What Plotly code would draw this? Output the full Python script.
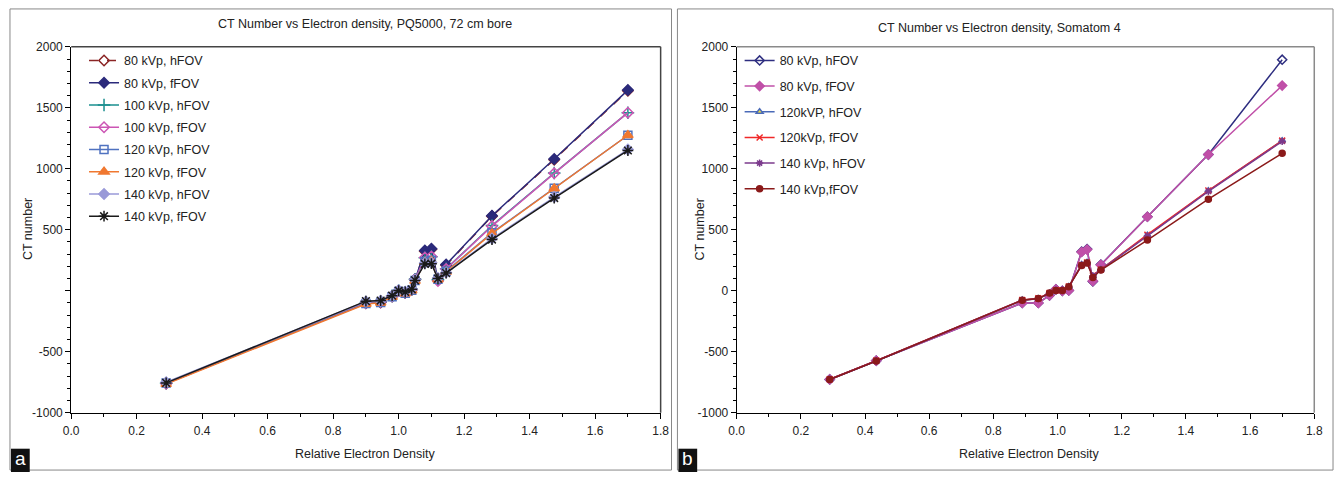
import plotly.graph_objects as go

# ---------------- data ----------------
ed_a = [0.29, 0.90, 0.945, 0.98, 1.00, 1.02, 1.04, 1.05, 1.08, 1.10, 1.12, 1.145, 1.285, 1.475, 1.70]
a_80_h = [-760, -102, -95, -47, -2, -17, 8, 92, 325, 340, 88, 210, 612, 1075, 1640]
a_80_f = [-755, -100, -92, -45, 0, -15, 10, 95, 330, 345, 90, 215, 615, 1080, 1645]
a_100_h = [-758, -98, -90, -42, 2, -12, 12, 95, 270, 280, 90, 180, 535, 965, 1460]
a_100_f = [-760, -100, -92, -45, 0, -15, 10, 92, 272, 282, 80, 178, 530, 963, 1460]
a_120_h = [-755, -105, -95, -48, -5, -20, 5, 85, 240, 250, 95, 160, 475, 840, 1275]
a_120_f = [-765, -108, -98, -50, -8, -22, 2, 80, 235, 245, 92, 155, 470, 838, 1275]
a_140_h = [-750, -88, -82, -38, 5, -8, 15, 90, 228, 230, 105, 150, 428, 768, 1158]
a_140_f = [-755, -85, -80, -40, 2, -10, 12, 85, 220, 222, 100, 145, 420, 760, 1150]

ed_b = [0.29, 0.435, 0.89, 0.94, 0.975, 0.995, 1.015, 1.035, 1.075, 1.092, 1.11, 1.135, 1.28, 1.47, 1.70]
b_80_h = [-727, -573, -100, -100, -37, 12, 0, 3, 321, 342, 77, 215, 607, 1117, 1894]
b_80_f = [-727, -573, -100, -100, -37, 12, 0, 3, 318, 338, 80, 212, 607, 1117, 1682]
b_120_h = [-725, -575, -75, -65, -20, 5, 5, 35, 215, 235, 120, 175, 455, 820, 1230]
b_120_f = [-725, -572, -75, -62, -18, 5, 5, 35, 212, 232, 125, 175, 460, 822, 1231]
b_140_h = [-727, -575, -78, -65, -20, 3, 3, 33, 210, 230, 122, 172, 450, 815, 1225]
b_140_f = [-727, -575, -77, -64, -19, 3, 3, 34, 207, 228, 109, 170, 416, 751, 1127]

names_a = ["80 kVp, hFOV", "80 kVp, fFOV", "100 kVp, hFOV", "100 kVp, fFOV",
           "120 kVp, hFOV", "120 kVp, fFOV", "140 kVp, hFOV", "140 kVp, fFOV"]
names_b = ["80 kVp, hFOV", "80 kVp, fFOV", "120kVP, hFOV", "120kVp, fFOV",
           "140 kVp, hFOV", "140 kVp,fFOV"]

y_ticks = [-1000, -500, 0, 500, 1000, 1500, 2000]
y_text_a = ["-1000", "-500", "", "500", "1000", "1500", "2000"]
y_text_b = ["-1000", "-500", "0", "500", "1000", "1500", "2000"]

FONT = "Arial, Liberation Sans, sans-serif"

fig = go.Figure()

style_a = [
    dict(color="#8B2525", symbol="diamond-open", dash="dash", size=8),
    dict(color="#2B2A7B", symbol="diamond", dash="solid", size=8),
    dict(color="#1A8F8F", symbol="cross-thin-open", dash="solid", size=9),
    dict(color="#CC55B4", symbol="diamond-open", dash="solid", size=8),
    dict(color="#4F72C0", symbol="square-open", dash="solid", size=8),
    dict(color="#F07830", symbol="triangle-up", dash="solid", size=9),
    dict(color="#9A9AD8", symbol="diamond", dash="solid", size=8),
    dict(color="#1A1A1A", symbol="asterisk-open", dash="solid", size=9),
]
series_a = [a_80_h, a_80_f, a_100_h, a_100_f, a_120_h, a_120_f, a_140_h, a_140_f]
for nm, ys, st in zip(names_a, series_a, style_a):
    fig.add_trace(go.Scatter(
        x=ed_a, y=ys, name=nm, mode="lines+markers", xaxis="x", yaxis="y",
        legend="legend", legendgroup=nm + "a",
        line=dict(color=st["color"], width=1.5, dash=st["dash"]),
        marker=dict(symbol=st["symbol"], size=st["size"], color=st["color"],
                    line=dict(color=st["color"], width=1.5)),
    ))

style_b = [
    dict(color="#2E2E80", symbol="diamond-open", fill="#2E2E80", size=7),
    dict(color="#C050A8", symbol="diamond", fill="#C050A8", size=7),
    dict(color="#4A6AB8", symbol="triangle-up", fill="#F2E040", size=6),
    dict(color="#F02828", symbol="x-thin-open", fill="#F02828", size=6),
    dict(color="#7B3A8C", symbol="asterisk-open", fill="#7B3A8C", size=6),
    dict(color="#8B1A1A", symbol="circle", fill="#8B1A1A", size=6),
]
series_b = [b_80_h, b_80_f, b_120_h, b_120_f, b_140_h, b_140_f]
for nm, ys, st in zip(names_b, series_b, style_b):
    fig.add_trace(go.Scatter(
        x=ed_b, y=ys, name=nm, mode="lines+markers", xaxis="x2", yaxis="y2",
        legend="legend2", legendgroup=nm + "b",
        line=dict(color=st["color"], width=1.5),
        marker=dict(symbol=st["symbol"], size=st["size"], color=st["fill"],
                    line=dict(color=st["color"], width=1.5)),
    ))

W, H = 1344, 479
def px(x):
    return x / W
def py(y):
    return 1 - y / H

axis_common = dict(
    showline=True, linecolor="#000000", linewidth=1, ticks="outside", ticklen=5,
    tickcolor="#000000", showgrid=False, zeroline=False,
    tickfont=dict(family=FONT, size=12, color="#222222"),
    minor=dict(ticks="outside", ticklen=3, tickcolor="#000000"),
)

fig.update_layout(
    width=W, height=H, margin=dict(l=0, r=0, t=0, b=0),
    paper_bgcolor="white", plot_bgcolor="white",
    font=dict(family=FONT, size=12, color="#222222"),
    xaxis=dict(domain=[px(64), px(661)], range=[0, 1.8], dtick=0.2, tick0=0,
               tickformat=".1f", anchor="y", minor_dtick=0.1, ticklabelstandoff=2,
               **axis_common),
    yaxis=dict(domain=[py(418), py(41)], range=[-1000, 2000], tickvals=y_ticks,
               ticktext=y_text_a, anchor="x", minor_dtick=100, **axis_common),
    xaxis2=dict(domain=[px(738), px(1323)], range=[0, 1.8], dtick=0.2, tick0=0,
                tickformat=".1f", anchor="y2", minor_dtick=0.1, ticklabelstandoff=2,
                **axis_common),
    yaxis2=dict(domain=[py(418), py(41)], range=[-1000, 2000], tickvals=y_ticks,
                ticktext=y_text_b, anchor="x2", minor_dtick=100, **axis_common),
    legend=dict(x=px(77), y=py(40), xanchor="left", yanchor="top",
                bgcolor="rgba(0,0,0,0)", font=dict(family=FONT, size=12.5, color="#222222"),
                tracegroupgap=3, itemwidth=30),
    legend2=dict(x=px(741), y=py(40), xanchor="left", yanchor="top",
                 bgcolor="rgba(0,0,0,0)", font=dict(family=FONT, size=12.5, color="#222222"),
                 tracegroupgap=6.4, itemwidth=30),
)

shapes = []
# panel frames
shapes.append(dict(type="rect", xref="paper", yref="paper", x0=px(2), x1=px(672),
                   y0=py(477), y1=py(2), line=dict(color="#888888", width=1)))
shapes.append(dict(type="rect", xref="paper", yref="paper", x0=px(678), x1=px(1342),
                   y0=py(477), y1=py(2), line=dict(color="#888888", width=1)))
# plot-area top/right border
for x0, x1, col in [(64, 661, "#444444"), (738, 1323, "#8A8A8A")]:
    shapes.append(dict(type="line", xref="paper", yref="paper", x0=px(x0), x1=px(x1),
                       y0=py(41), y1=py(41), line=dict(color=col, width=1.5)))
    shapes.append(dict(type="line", xref="paper", yref="paper", x0=px(x1), x1=px(x1),
                       y0=py(41), y1=py(418), line=dict(color=col, width=1.5)))
# panel label boxes
for x0 in [3, 679]:
    shapes.append(dict(type="rect", xref="paper", yref="paper", x0=px(x0), x1=px(x0 + 19),
                       y0=py(479), y1=py(455), fillcolor="#111111", line=dict(width=0)))
fig.update_layout(shapes=shapes)

ann = []
def add_text(text, x, y, size=12.5, color="#222222", angle=0):
    ann.append(dict(text=text, x=px(x), y=py(y), xref="paper", yref="paper",
                    xanchor="center", yanchor="middle", showarrow=False,
                    textangle=angle, font=dict(size=size, color=color)))

add_text("CT Number vs Electron density, PQ5000, 72 cm bore", 362, 18)
add_text("CT Number vs Electron density, Somatom 4", 1004, 22)
add_text("Relative Electron Density", 362, 460)
add_text("Relative Electron Density", 1034, 460)
add_text("CT number", 21, 229, angle=-90)
add_text("CT number", 701, 229, angle=-90)
add_text("a", 12.5, 465, size=19, color="white")
add_text("b", 688.5, 465, size=19, color="white")
fig.update_layout(annotations=ann)

post = (
    "document.documentElement.style.margin='0';"
    "document.body.style.margin='0';document.body.style.padding='0';"
    "document.body.style.overflow='hidden';"
)
fig.write_html("out.html", post_script=post, config={"displayModeBar": False})
